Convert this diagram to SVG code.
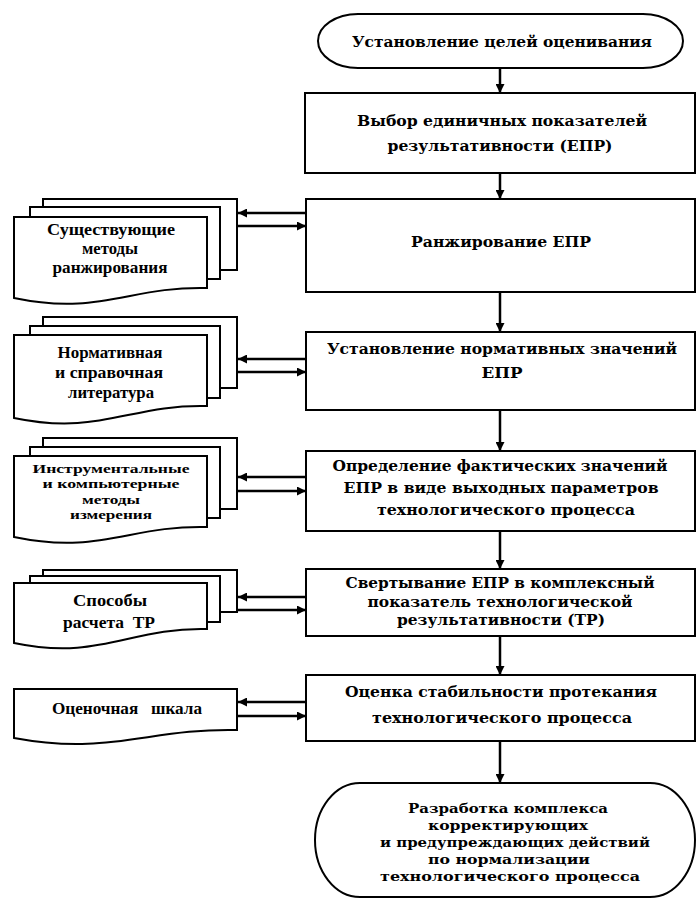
<svg xmlns="http://www.w3.org/2000/svg" width="696" height="900" viewBox="0 0 696 900">
<style>
.bx{fill:#fff;stroke:#000;stroke-width:2}
.ln{fill:none;stroke:#000;stroke-width:2.5}
.t{font-family:"DejaVu Serif","Liberation Serif",serif;font-weight:bold;font-size:15px;text-anchor:middle;dominant-baseline:central;fill:#000}
.d{font-family:"Liberation Serif","DejaVu Serif",serif;font-weight:bold;font-size:16px;text-anchor:middle;dominant-baseline:central;fill:#000}
.s{font-size:13px}
</style>
<defs>
<marker id="ah" viewBox="0 0 10 10" refX="10" refY="5" markerWidth="10" markerHeight="9" markerUnits="userSpaceOnUse" orient="auto">
<path d="M0,0 L10,5 L0,10 Z" fill="#000"/>
</marker>
</defs>

<g id="connectors">
<line class="ln" x1="500" y1="68" x2="500" y2="93" marker-end="url(#ah)"/>
<line class="ln" x1="500" y1="173" x2="500" y2="199" marker-end="url(#ah)"/>
<line class="ln" x1="500" y1="292" x2="500" y2="332" marker-end="url(#ah)"/>
<line class="ln" x1="500" y1="410" x2="500" y2="451" marker-end="url(#ah)"/>
<line class="ln" x1="500" y1="531" x2="500" y2="569" marker-end="url(#ah)"/>
<line class="ln" x1="500" y1="636" x2="500" y2="675" marker-end="url(#ah)"/>
<line class="ln" x1="500" y1="741" x2="500" y2="783" marker-end="url(#ah)"/>

<line class="ln" x1="306" y1="213" x2="238" y2="213" marker-end="url(#ah)"/>
<line class="ln" x1="238" y1="226" x2="306" y2="226" marker-end="url(#ah)"/>
<line class="ln" x1="306" y1="359" x2="238" y2="359" marker-end="url(#ah)"/>
<line class="ln" x1="238" y1="372" x2="306" y2="372" marker-end="url(#ah)"/>
<line class="ln" x1="306" y1="477" x2="238" y2="477" marker-end="url(#ah)"/>
<line class="ln" x1="238" y1="491" x2="306" y2="491" marker-end="url(#ah)"/>
<line class="ln" x1="306" y1="597" x2="238" y2="597" marker-end="url(#ah)"/>
<line class="ln" x1="238" y1="610" x2="306" y2="610" marker-end="url(#ah)"/>
<line class="ln" x1="306" y1="702" x2="238" y2="702" marker-end="url(#ah)"/>
<line class="ln" x1="238" y1="716" x2="306" y2="716" marker-end="url(#ah)"/>
</g>

<g id="start">
<rect class="bx" x="318" y="14" width="365" height="54" rx="40" ry="27"/>
<text class="t" x="502" y="42" textLength="300" lengthAdjust="spacingAndGlyphs">Установление целей оценивания</text>
</g>

<g id="vybor">
<rect class="bx" x="305" y="93" width="390" height="80"/>
<text class="t" x="502" y="121" textLength="290" lengthAdjust="spacingAndGlyphs">Выбор единичных показателей</text>
<text class="t" x="500" y="146" textLength="225" lengthAdjust="spacingAndGlyphs">результативности (ЕПР)</text>
</g>

<g id="ranzhirovanie">
<rect class="bx" x="306" y="199" width="389" height="93"/>
<text class="t" x="501" y="242" textLength="180" lengthAdjust="spacingAndGlyphs">Ранжирование ЕПР</text>
</g>

<g id="normativnye">
<rect class="bx" x="306" y="332" width="389" height="78"/>
<text class="t" x="502" y="349" textLength="350" lengthAdjust="spacingAndGlyphs">Установление нормативных значений</text>
<text class="t" x="502" y="373" textLength="41" lengthAdjust="spacingAndGlyphs">ЕПР</text>
</g>

<g id="fakticheskie">
<rect class="bx" x="306" y="451" width="389" height="80"/>
<text class="t" x="500" y="466" textLength="335" lengthAdjust="spacingAndGlyphs">Определение фактических значений</text>
<text class="t" x="501" y="488" textLength="315" lengthAdjust="spacingAndGlyphs">ЕПР в виде выходных параметров</text>
<text class="t" x="506" y="510" textLength="258" lengthAdjust="spacingAndGlyphs">технологического процесса</text>
</g>

<g id="svertyvanie">
<rect class="bx" x="306" y="569" width="389" height="67"/>
<text class="t" x="500" y="583" textLength="309" lengthAdjust="spacingAndGlyphs">Свертывание ЕПР в комплексный</text>
<text class="t" x="500" y="602" textLength="265" lengthAdjust="spacingAndGlyphs">показатель технологической</text>
<text class="t" x="501" y="620" textLength="208" lengthAdjust="spacingAndGlyphs">результативности (ТР)</text>
</g>

<g id="ocenka">
<rect class="bx" x="306" y="675" width="389" height="66"/>
<text class="t" x="501" y="692" textLength="312" lengthAdjust="spacingAndGlyphs">Оценка стабильности протекания</text>
<text class="t" x="502" y="718" textLength="260" lengthAdjust="spacingAndGlyphs">технологического процесса</text>
</g>

<g id="end">
<rect class="bx" x="315" y="783" width="380" height="114" rx="45" ry="57"/>
<text class="t s" x="508" y="808" textLength="200" lengthAdjust="spacingAndGlyphs">Разработка комплекса</text>
<text class="t s" x="508" y="825" textLength="160" lengthAdjust="spacingAndGlyphs">корректирующих</text>
<text class="t s" x="515" y="842" textLength="270" lengthAdjust="spacingAndGlyphs">и предупреждающих действий</text>
<text class="t s" x="509" y="859" textLength="162" lengthAdjust="spacingAndGlyphs">по нормализации</text>
<text class="t s" x="510" y="876" textLength="260" lengthAdjust="spacingAndGlyphs">технологического процесса</text>
</g>

<g id="doc-metody">
<rect class="bx" x="43" y="199" width="194" height="71"/>
<rect class="bx" x="30" y="207" width="190" height="72"/>
<path class="bx" d="M14,217 H207 V288 C130,286 100,316 14,298 Z"/>
<text class="d" x="111" y="229" textLength="128" lengthAdjust="spacingAndGlyphs">Существующие</text>
<text class="d" x="110" y="248" textLength="56" lengthAdjust="spacingAndGlyphs">методы</text>
<text class="d" x="110" y="267" textLength="115" lengthAdjust="spacingAndGlyphs">ранжирования</text>
</g>

<g id="doc-literatura">
<rect class="bx" x="43" y="317" width="194" height="71"/>
<rect class="bx" x="30" y="326" width="190" height="72"/>
<path class="bx" d="M14,335 H207 V406 C130,404 100,436 14,418 Z"/>
<text class="d" x="110" y="352" textLength="105" lengthAdjust="spacingAndGlyphs">Нормативная</text>
<text class="d" x="109" y="372" textLength="108" lengthAdjust="spacingAndGlyphs">и справочная</text>
<text class="d" x="111" y="392" textLength="86" lengthAdjust="spacingAndGlyphs">литература</text>
</g>

<g id="doc-izmerenie">
<rect class="bx" x="43" y="438" width="194" height="71"/>
<rect class="bx" x="30" y="447" width="190" height="71"/>
<path class="bx" d="M14,456 H207 V527 C130,525 100,555 14,537 Z"/>
<text class="d s" x="111" y="468" textLength="157" lengthAdjust="spacingAndGlyphs">Инструментальные</text>
<text class="d s" x="111" y="483.5" textLength="137" lengthAdjust="spacingAndGlyphs">и компьютерные</text>
<text class="d s" x="111" y="499" textLength="58" lengthAdjust="spacingAndGlyphs">методы</text>
<text class="d s" x="111" y="514.5" textLength="82" lengthAdjust="spacingAndGlyphs">измерения</text>
</g>

<g id="doc-sposoby">
<rect class="bx" x="43" y="570" width="194" height="42"/>
<rect class="bx" x="30" y="576" width="190" height="46"/>
<path class="bx" d="M14,583 H207 V629 C130,627 100,661 14,643 Z"/>
<text class="d" x="110" y="600" textLength="74" lengthAdjust="spacingAndGlyphs">Способы</text>
<text class="d" x="109" y="622" textLength="92" lengthAdjust="spacingAndGlyphs" xml:space="preserve">расчета  ТР</text>
</g>

<g id="doc-shkala">
<path class="bx" d="M14,689 H237 V730 C150,728 110,756 14,738 Z"/>
<text class="d" x="127" y="708" textLength="150" lengthAdjust="spacingAndGlyphs" xml:space="preserve">Оценочная   шкала</text>
</g>
</svg>
